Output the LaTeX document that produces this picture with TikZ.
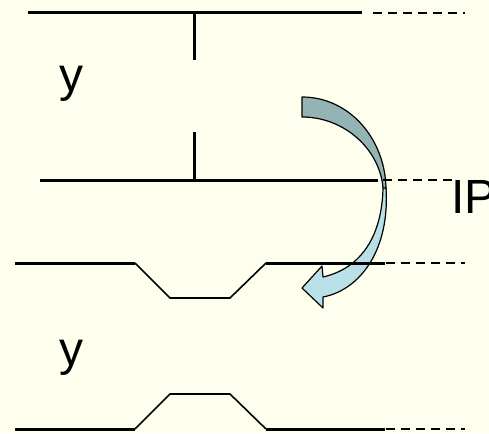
\documentclass[tikz,border=0pt]{standalone}
\usepackage{fontspec}
\setmainfont{Liberation Sans}
\usepackage{tikz}
\usetikzlibrary{calc}

\definecolor{bgcream}{RGB}{255,255,238}
\definecolor{arrowback}{RGB}{147,179,181}
\definecolor{arrowfront}{RGB}{184,224,230}

\tikzset{
	wall/.style={line width=3pt},
	slope/.style={line width=1.6pt},
	extend/.style={line width=1.4pt,dash pattern=on 9pt off 6pt},
	lbl/.style={font=\fontsize{48}{48}\selectfont,inner sep=0pt,anchor=base west}
}

\begin{document}
\begin{tikzpicture}[x=1pt,y=-1pt,line join=round]
	
	\fill[bgcream] (0,0) rectangle (489,433);
	\useasboundingbox (0,0) rectangle (489,433);
	
	% 弯箭头
	\filldraw[fill=arrowback,line width=1.2pt]
	(302,97) .. controls (350,97) and (386,140) .. (386,190)
	-- (383,188) .. controls (380,150) and (345,117) .. (302,117) -- cycle;
	\filldraw[fill=arrowfront,line width=1.2pt]
	(386,188) .. controls (390,250) and (360,290) .. (323,297)
	-- (323,308) -- (302,288) -- (322,266) -- (323,277)
	.. controls (362,268) and (382,235) .. (383,188) -- cycle;
	
	% 上面两条
	\coordinate (T1) at (194,13);
	\coordinate (T2) at (194,180);
	\draw[wall] (28,13) -- (362,13);
	\draw[extend] (373,13) -- (465,13);
	\draw[wall] (T1) -- (194,60);
	\draw[wall] (194,132) -- (T2);
	\draw[wall] (40,180) -- (378,180);
	\draw[extend] (383,180) -- (452,180);
	
	% 凹下
	\draw[wall] (15,263) -- (135,263);
	\draw[slope] (135,263) -- (170,298) -- (230,298) -- (266,263);
	\draw[wall] (266,263) -- (385,263);
	\draw[extend] (386,263) -- (465,263);
	
	% 凸起
	\draw[wall] (15,429) -- (135,429);
	\draw[slope] (135,429) -- (170,394) -- (230,394) -- (266,429);
	\draw[wall] (266,429) -- (385,429);
	\draw[extend] (386,429) -- (465,429);
	
	\node[lbl] (y1) at (59,92) {y};
	\node[lbl] (y2) at (59,365) {y};
	\node[lbl] (ip) at (451,213) {IP};
	
\end{tikzpicture}
\end{document}
